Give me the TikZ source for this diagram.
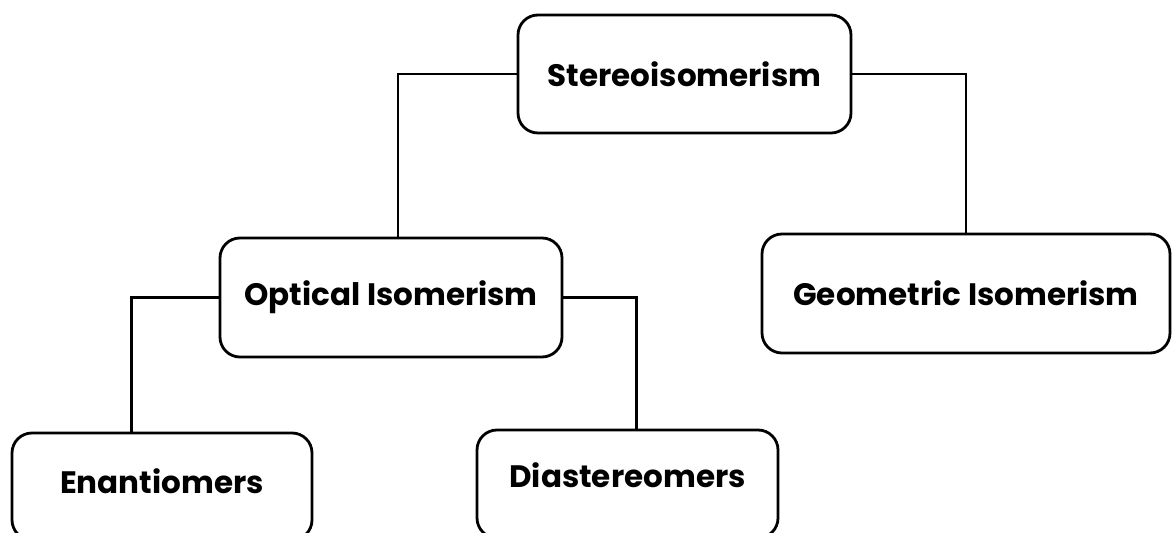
\documentclass[tikz,border=0pt]{standalone}
\usepackage{fontspec}
\setmainfont{Poppins}
\usetikzlibrary{positioning,calc}

\begin{document}
\begin{tikzpicture}[
  x=0.5pt, y=-0.5pt,
  font=\fontsize{15.5}{18}\selectfont\bfseries,
  % rounded boxes
  box/.style = {
    draw, rounded corners=10pt,
    line width=1.4pt,
    align=center,
    inner sep=0pt
  },
  link/.style = {line width=1.4pt}
]

% ---- frame ----
\useasboundingbox (0,0) rectangle (1172,533);
\clip (0,0) rectangle (1172,533);

% ---- nodes ----
\node[box, minimum width=166.5pt, minimum height=59pt] (stereo) at (684.5,74) {Stereoisomerism};
\node[box, minimum width=171pt, minimum height=59.5pt] (optical) at (391,297.5) {Optical Isomerism};
\node[box, minimum width=204pt, minimum height=59.5pt] (geo) at (966,293.5) {Geometric Isomerism};
\node[box, minimum width=150pt, minimum height=53.5pt, text depth=5pt] (enan) at (162,486.5) {Enantiomers};
\node[box, minimum width=150.5pt, minimum height=54pt, text depth=9pt] (diast) at (627.5,484) {Diastereomers};

% ---- connectors ----
\draw[link] (stereo.west) -| ($(optical.north west)!0.52!(optical.north east)$);
\draw[link] (stereo.east) -| (geo.north);
\draw[link] (optical.west) -| ($(enan.north west)!0.4!(enan.north east)$);
\draw[link] (optical.east) -| ($(diast.north west)!0.53!(diast.north east)$);

\end{tikzpicture}
\end{document}
